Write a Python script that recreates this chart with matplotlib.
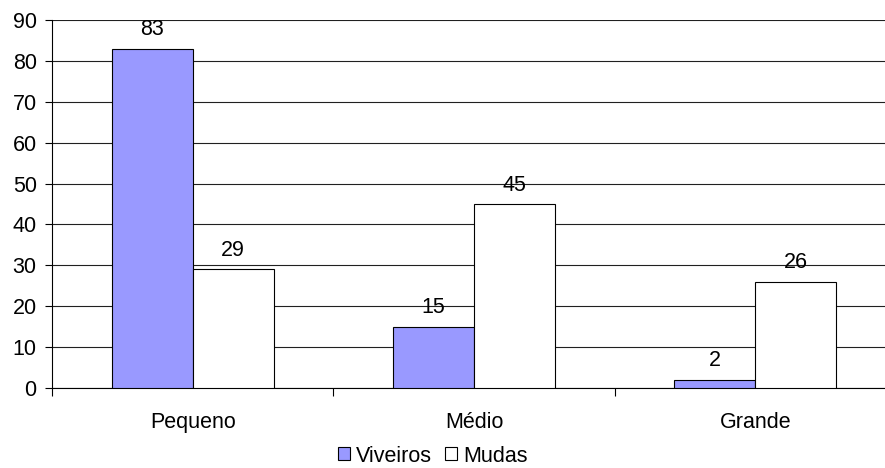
import matplotlib
matplotlib.use("Agg")
import matplotlib.pyplot as plt
import numpy as np
from matplotlib.patches import Patch

categories = ["Pequeno", "Médio", "Grande"]
viveiros = [83, 15, 2]
mudas = [29, 45, 26]
series_names = ["Viveiros", "Mudas"]

plt.rcParams['font.family'] = ['Liberation Sans', 'DejaVu Sans']
FS = 15.5

fig = plt.figure(figsize=(8.85, 4.68), dpi=100)
ax = fig.add_axes([52/885, 80/468, (896 - 52)/885, 368/468])

x = np.arange(len(categories)) + 0.5
w = 0.288
b1 = ax.bar(x - w/2, viveiros, w, color='#9999FF', edgecolor='black', linewidth=0.8, zorder=3)
b2 = ax.bar(x + w/2, mudas, w, color='white', edgecolor='black', linewidth=0.8, zorder=3)

for bars, vals in ((b1, viveiros), (b2, mudas)):
    for r, v in zip(bars, vals):
        ax.annotate(str(v), (r.get_x() + r.get_width()/2, v), xytext=(0, 6),
                    textcoords='offset points', ha='center', va='bottom', fontsize=FS, zorder=4)

ax.set_xlim(0, 3)
ax.set_ylim(0, 90)
ax.set_yticks(range(0, 91, 10))
ax.yaxis.grid(True, color='#202020', linewidth=0.8, zorder=0)
ax.set_xticks([0, 1, 2, 3])
ax.set_xticklabels([])
ax.set_xticks(x, minor=True)
ax.set_xticklabels(categories, minor=True)
ax.tick_params(axis='x', which='minor', length=0, pad=17, labelsize=FS)
ax.tick_params(axis='x', which='major', length=6, direction='out')
ax.tick_params(axis='y', labelsize=FS, length=5, direction='out', pad=6)
for s in ('top', 'right'):
    ax.spines[s].set_visible(False)
ax.spines['left'].set_linewidth(0.8)
ax.spines['bottom'].set_linewidth(0.8)

handles = [Patch(facecolor='#9999FF', edgecolor='black', linewidth=0.8),
           Patch(facecolor='white', edgecolor='black', linewidth=0.8)]
fig.legend(handles, series_names, loc='center', bbox_to_anchor=(433/885, 1 - 456/468),
           ncol=2, frameon=False, fontsize=FS, handlelength=0.55, handleheight=0.55,
           handletextpad=0.3, columnspacing=0.6, borderaxespad=0)

fig.savefig("out.png", dpi=100)
